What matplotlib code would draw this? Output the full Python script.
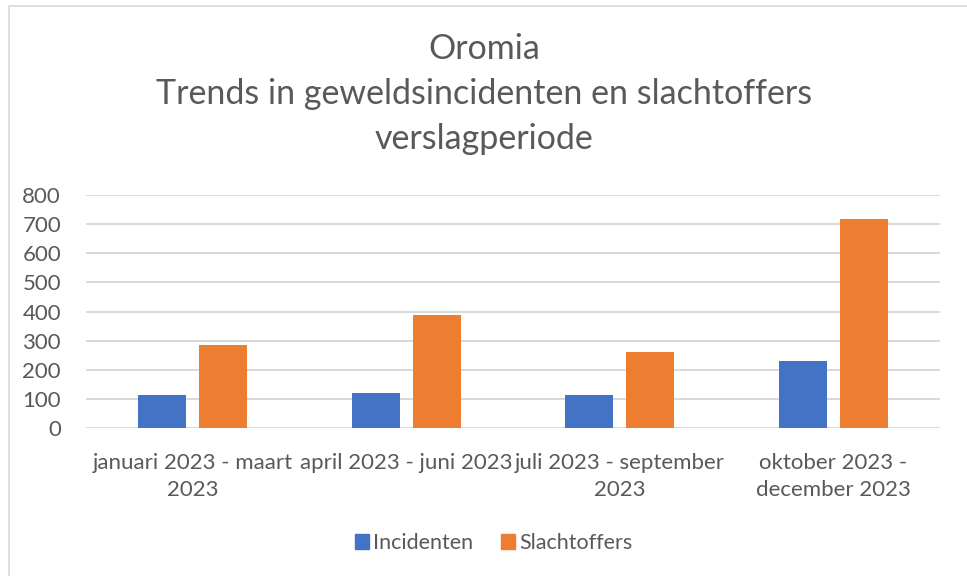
import matplotlib
matplotlib.use("Agg")
import matplotlib.pyplot as plt
from matplotlib.patches import Rectangle, Patch
import numpy as np

categories = ["januari 2023 - maart\n2023", "april 2023 - juni 2023",
              "juli 2023 - september\n2023", "oktober 2023 -\ndecember 2023"]
incidenten = [114, 119, 113, 229]
slachtoffers = [284, 388, 261, 716]
yticks = [0, 100, 200, 300, 400, 500, 600, 700, 800]
title = "Oromia\nTrends in geweldsincidenten en slachtoffers\nverslagperiode"

FONT = "Lato"
GREY = "#595959"
BLUE = "#4472C4"
ORANGE = "#ED7D31"
GRID = "#D9D9D9"

W, H = 967, 576
fig = plt.figure(figsize=(W / 100, H / 100), dpi=100)
fig.patch.set_facecolor("white")

# chart border (right and bottom edges lie outside the picture)
fig.patches.append(Rectangle((9 / W, -0.1), 1.2, 1.1 - 6 / H, transform=fig.transFigure,
                             fill=False, edgecolor=GRID, linewidth=1.2, zorder=0))

ax = fig.add_axes([86 / W, 1 - 428 / H, 854 / W, 233 / H])
x = np.arange(len(categories))
bw = 0.225
off = 0.143
ax.bar(x - off, incidenten, bw, color=BLUE, label="Incidenten", zorder=3)
ax.bar(x + off, slachtoffers, bw, color=ORANGE, label="Slachtoffers", zorder=3)

ax.set_xlim(-0.5, len(categories) - 0.5)
ax.set_ylim(0, 800)
ax.set_yticks(yticks)
ax.set_yticklabels([str(v) for v in yticks], fontsize=16, family=FONT, color=GREY)
ax.set_xticks(x)
ax.set_xticklabels(categories, fontsize=16, family=FONT, color=GREY, linespacing=1.45)
ax.tick_params(axis="both", length=0)
ax.tick_params(axis="x", pad=18)
ax.tick_params(axis="y", pad=18)
ax.grid(axis="y", color=GRID, linewidth=1.4, zorder=0)
for s in ax.spines.values():
    s.set_visible(False)

fig.text(484 / W, 1 - 94 / H, title, ha="center", va="center", fontsize=24.5,
         family=FONT, color=GREY, linespacing=1.5)

handles = [Patch(color=BLUE), Patch(color=ORANGE)]
fig.legend(handles, ["Incidenten", "Slachtoffers"], loc="center",
           bbox_to_anchor=(494 / W, 1 - 543 / H), ncol=2, frameon=False,
           prop={"family": FONT, "size": 15.5}, labelcolor=GREY,
           handlelength=0.65, handleheight=0.65, handletextpad=0.2, columnspacing=1.3)

fig.savefig("out.png", dpi=100)
